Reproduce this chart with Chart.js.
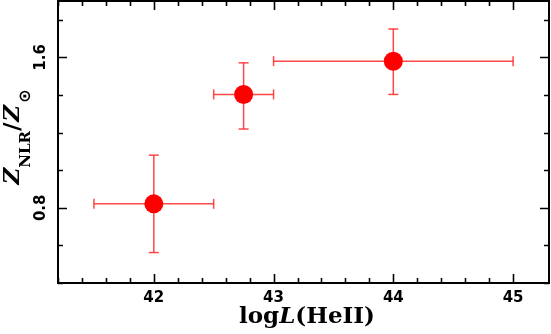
<!DOCTYPE html>
<html>
<head>
<meta charset="utf-8">
<script src="https://cdn.jsdelivr.net/npm/chart.js@4"></script>
<style>
  body { margin: 0; background: #fff; }
  canvas { display: block; }
</style>
</head>
<body>
<canvas id="chart" width="551" height="334"></canvas>
<script>
// data
const logL = [42.0, 42.75, 44.0];
const xErr = [0.5, 0.25, 1.0];
const zRatio = [0.821, 1.403, 1.58];
const zErrMinus = [0.259, 0.184, 0.177];
const zErrPlus = [0.259, 0.168, 0.171];

const xTickLabels = [42, 43, 44, 45];
const yTickLabels = [0.8, 1.6];

const red = 'rgb(255,0,0)';
const barRed = 'rgba(255,40,40,0.85)';

// error bar segments, split with null points
const hBars = [];
const vBars = [];
logL.forEach((x, i) => {
    hBars.push({ x: x - xErr[i], y: zRatio[i] }, { x: x + xErr[i], y: zRatio[i] }, { x: x, y: null });
    vBars.push({ x: x, y: zRatio[i] - zErrMinus[i] }, { x: x, y: zRatio[i] + zErrPlus[i] }, { x: x, y: null });
});

function isStep(v, step) {
    const r = v / step;
    return Math.abs(r - Math.round(r)) < 1e-6;
}

function drawRuns(ctx, runs) {
    let w = 0;
    runs.forEach(r => { ctx.font = r.font; w += ctx.measureText(r.text).width + (r.gap || 0); });
    let x = -w / 2;
    runs.forEach(r => {
        ctx.font = r.font;
        ctx.fillText(r.text, x, r.dy || 0);
        x += ctx.measureText(r.text).width + (r.gap || 0);
    });
}

const framePlugin = {
    id: 'frame',
    afterDatasetsDraw(chart) {
        const ctx = chart.ctx;
        const { left, right, top, bottom } = chart.chartArea;
        const xs = chart.scales.x;
        const ys = chart.scales.y;
        ctx.save();
        ctx.strokeStyle = '#000';
        ctx.lineWidth = 2;
        ctx.strokeRect(left, top, right - left, bottom - top);

        ctx.lineWidth = 1.6;
        ctx.beginPath();
        xs.ticks.forEach(t => {
            if (!isStep(t.value, 0.2)) return;
            const len = xTickLabels.some(v => Math.abs(v - t.value) < 1e-6) ? 9 : 5;
            const px = Math.round(xs.getPixelForValue(t.value)) + 0.5;
            ctx.moveTo(px, bottom); ctx.lineTo(px, bottom - len);
            ctx.moveTo(px, top); ctx.lineTo(px, top + len);
        });
        ys.ticks.forEach(t => {
            if (!isStep(t.value, 0.2)) return;
            const len = yTickLabels.some(v => Math.abs(v - t.value) < 1e-6) ? 9 : 5;
            const py = Math.round(ys.getPixelForValue(t.value)) + 0.5;
            ctx.moveTo(left, py); ctx.lineTo(left + len, py);
            ctx.moveTo(right, py); ctx.lineTo(right - len, py);
        });
        ctx.stroke();

        // y tick labels, rotated
        ctx.fillStyle = '#000';
        ctx.font = 'bold 15px "DejaVu Sans"';
        ctx.textAlign = 'center';
        ctx.textBaseline = 'middle';
        yTickLabels.forEach(v => {
            ctx.save();
            ctx.translate(41, ys.getPixelForValue(v));
            ctx.rotate(-Math.PI / 2);
            ctx.fillText(v.toFixed(1), 0, 0);
            ctx.restore();
        });

        // axis titles
        ctx.textAlign = 'left';
        ctx.textBaseline = 'alphabetic';
        ctx.save();
        ctx.translate(307, 323);
        drawRuns(ctx, [
            { text: 'log', font: '600 23px "DejaVu Serif"' },
            { text: 'L', font: 'italic 600 23px "DejaVu Serif"' },
            { text: '(HeII)', font: '600 23px "DejaVu Serif"' }
        ]);
        ctx.restore();

        ctx.save();
        ctx.translate(19, 137);
        ctx.rotate(-Math.PI / 2);
        drawRuns(ctx, [
            { text: 'Z', font: 'italic 600 23px "DejaVu Serif"', gap: 0 },
            { text: 'NLR', font: 'bold 15px "DejaVu Serif"', dy: 11, gap: 0 },
            { text: '/', font: '600 23px "DejaVu Serif"', gap: 1 },
            { text: 'Z', font: 'italic 600 23px "DejaVu Serif"', gap: 2 },
            { text: '\u2299', font: 'bold 16px "DejaVu Sans"', dy: 11 }
        ]);
        ctx.restore();
        ctx.restore();
    }
};

new Chart(document.getElementById('chart').getContext('2d'), {
    type: 'scatter',
    data: {
        datasets: [{
            label: 'Z_NLR',
            data: logL.map((x, i) => ({ x: x, y: zRatio[i] })),
            pointRadius: 9.5,
            pointBackgroundColor: red,
            pointBorderWidth: 0,
            showLine: false,
            order: 0
        }, {
            label: 'x errors',
            data: hBars,
            showLine: true,
            spanGaps: false,
            borderColor: barRed,
            borderWidth: 1.5,
            pointStyle: 'line',
            rotation: 90,
            pointRadius: 5,
            pointBorderColor: barRed,
            pointBorderWidth: 1.5,
            order: 1
        }, {
            label: 'y errors',
            data: vBars,
            showLine: true,
            spanGaps: false,
            borderColor: barRed,
            borderWidth: 1.5,
            pointStyle: 'line',
            rotation: 0,
            pointRadius: 5,
            pointBorderColor: barRed,
            pointBorderWidth: 1.5,
            order: 1
        }]
    },
    options: {
        responsive: false,
        animation: false,
        layout: { autoPadding: false, padding: { top: 1, right: 2, left: 0, bottom: 0 } },
        plugins: {
            legend: { display: false },
            tooltip: { enabled: false }
        },
        scales: {
            x: {
                type: 'linear',
                min: 41.2,
                max: 45.3,
                grid: { display: false, drawTicks: false },
                border: { display: false },
                afterFit: s => { s.height = 51; s.paddingLeft = 0; s.paddingRight = 0; },
                ticks: {
                    stepSize: 0.2,
                    autoSkip: false,
                    maxRotation: 0,
                    padding: 6,
                    color: '#000',
                    font: { family: 'DejaVu Sans', weight: 'bold', size: 15 },
                    callback: v => xTickLabels.some(l => Math.abs(l - v) < 1e-6) ? String(Math.round(v)) : ''
                }
            },
            y: {
                type: 'linear',
                min: 0.4,
                max: 1.9,
                grid: { display: false, drawTicks: false },
                border: { display: false },
                afterFit: s => { s.width = 58; s.paddingTop = 0; s.paddingBottom = 0; },
                ticks: {
                    stepSize: 0.2,
                    autoSkip: false,
                    display: false
                }
            }
        }
    },
    plugins: [framePlugin]
});
</script>
</body>
</html>
